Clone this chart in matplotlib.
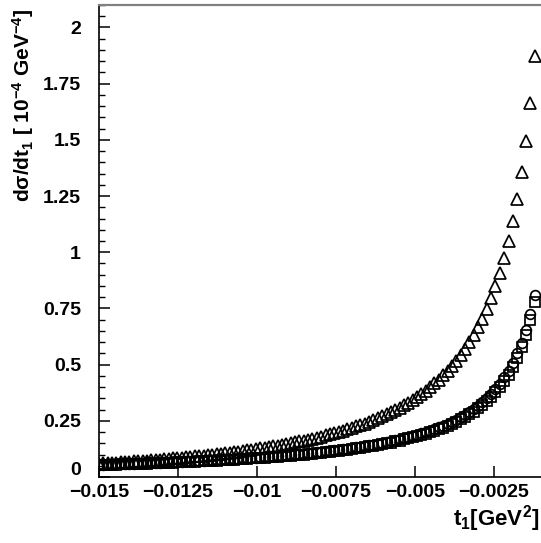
import numpy as np
import matplotlib.pyplot as plt
from matplotlib.ticker import MultipleLocator
from matplotlib.transforms import ScaledTranslation

plt.rcParams['font.family'] = ['Liberation Sans', 'DejaVu Sans']
plt.rcParams['font.weight'] = 'bold'
plt.rcParams['mathtext.fontset'] = 'custom'
plt.rcParams['mathtext.rm'] = 'Liberation Sans:bold'
plt.rcParams['mathtext.it'] = 'Liberation Sans:bold'
plt.rcParams['mathtext.bf'] = 'Liberation Sans:bold'

# t1 grid (GeV^2), 101 points
t1 = np.linspace(-0.015, -0.0012, 101)

# dsigma/dt1 [1e-4 GeV^-4], listed from t1 = -0.015 up to t1 = -0.0012
sig_tri = [
    0.0595, 0.0606, 0.0617, 0.0629, 0.0641, 0.0653, 0.0666, 0.0678, 0.0692, 0.0705,
    0.0719, 0.0733, 0.0747, 0.0762, 0.0778, 0.0793, 0.0809, 0.0825, 0.0842, 0.0860,
    0.0877, 0.0896, 0.0914, 0.0934, 0.0953, 0.0974, 0.0995, 0.102, 0.104, 0.106,
    0.108, 0.111, 0.113, 0.116, 0.119, 0.121, 0.124, 0.127, 0.130, 0.133,
    0.136, 0.140, 0.143, 0.147, 0.150, 0.154, 0.158, 0.162, 0.166, 0.170,
    0.175, 0.180, 0.185, 0.190, 0.195, 0.200, 0.206, 0.212, 0.218, 0.225,
    0.231, 0.238, 0.246, 0.253, 0.262, 0.270, 0.279, 0.288, 0.298, 0.308,
    0.319, 0.331, 0.343, 0.356, 0.370, 0.384, 0.399, 0.416, 0.433, 0.452,
    0.472, 0.494, 0.517, 0.542, 0.569, 0.599, 0.631, 0.666, 0.705, 0.748,
    0.795, 0.848, 0.907, 0.974, 1.050, 1.137, 1.238, 1.356, 1.497, 1.666,
    1.875,
]

sig_circ = [
    0.0546, 0.0552, 0.0558, 0.0564, 0.0570, 0.0577, 0.0583, 0.0590, 0.0597, 0.0604,
    0.0611, 0.0618, 0.0626, 0.0633, 0.0641, 0.0649, 0.0657, 0.0666, 0.0674, 0.0683,
    0.0691, 0.0701, 0.0710, 0.0719, 0.0729, 0.0739, 0.0750, 0.0760, 0.0771, 0.0782,
    0.0793, 0.0805, 0.0816, 0.0829, 0.0841, 0.0854, 0.0867, 0.0880, 0.0895, 0.0910,
    0.0924, 0.0939, 0.0955, 0.0971, 0.0987, 0.101, 0.102, 0.104, 0.106, 0.108,
    0.110, 0.112, 0.114, 0.117, 0.119, 0.121, 0.124, 0.126, 0.129, 0.132,
    0.135, 0.138, 0.141, 0.144, 0.148, 0.152, 0.155, 0.159, 0.164, 0.168,
    0.173, 0.178, 0.183, 0.188, 0.194, 0.200, 0.206, 0.213, 0.221, 0.228,
    0.237, 0.246, 0.255, 0.266, 0.277, 0.289, 0.302, 0.317, 0.333, 0.350,
    0.370, 0.391, 0.415, 0.443, 0.473, 0.509, 0.550, 0.598, 0.655, 0.724,
    0.808,
]

sig_sq = [
    0.0527, 0.0533, 0.0538, 0.0544, 0.0550, 0.0557, 0.0563, 0.0569, 0.0576, 0.0583,
    0.0590, 0.0596, 0.0604, 0.0611, 0.0619, 0.0626, 0.0634, 0.0643, 0.0650, 0.0659,
    0.0667, 0.0676, 0.0685, 0.0694, 0.0703, 0.0713, 0.0724, 0.0733, 0.0744, 0.0755,
    0.0765, 0.0777, 0.0787, 0.0800, 0.0812, 0.0824, 0.0837, 0.0849, 0.0864, 0.0878,
    0.0892, 0.0906, 0.0922, 0.0937, 0.0952, 0.0975, 0.0984, 0.100, 0.102, 0.104,
    0.106, 0.108, 0.110, 0.113, 0.115, 0.117, 0.120, 0.122, 0.124, 0.127,
    0.130, 0.133, 0.136, 0.139, 0.143, 0.147, 0.150, 0.153, 0.158, 0.162,
    0.167, 0.172, 0.177, 0.181, 0.187, 0.193, 0.199, 0.206, 0.213, 0.220,
    0.229, 0.237, 0.246, 0.257, 0.267, 0.279, 0.291, 0.306, 0.321, 0.338,
    0.357, 0.377, 0.400, 0.427, 0.456, 0.491, 0.531, 0.577, 0.632, 0.699,
    0.780,
]

xtick_vals = [-0.015, -0.0125, -0.01, -0.0075, -0.005, -0.0025]
xtick_text = ['\u22120.015', '\u22120.0125', '\u22120.01', '\u22120.0075',
              '\u22120.005', '\u22120.0025']
ytick_vals = [0, 0.25, 0.5, 0.75, 1, 1.25, 1.5, 1.75, 2]
ytick_text = ['0', '0.25', '0.5', '0.75', '1', '1.25', '1.5', '1.75', '2']

W, H = 541, 543
fig = plt.figure(figsize=(W / 100, H / 100), dpi=100)
ax = fig.add_axes([99 / W, 1 - 477 / H, 442 / W, 472 / H])

mk = dict(ls='none', mfc='none', mec='black', mew=1.25)
ax.plot(t1, sig_sq, marker='s', ms=6.8, **mk)
ax.plot(t1, sig_circ, marker='o', ms=7.0, **mk)
ax.plot(t1, sig_tri, marker='^', ms=9.0, **mk)

ax.set_xlim(-0.015, -0.001)
ax.set_ylim(0, 2.1)

ax.set_xticks(xtick_vals)
ax.set_xticklabels(xtick_text)
ax.set_yticks(ytick_vals)
ax.set_yticklabels(ytick_text)
ax.yaxis.set_minor_locator(MultipleLocator(0.05))

ax.tick_params(which='major', direction='in', length=8, width=1.1,
               labelsize=14, pad=13)
ax.tick_params(which='minor', direction='in', length=4, width=1.0)
ax.tick_params(axis='x', pad=5)
for lab in ax.get_xticklabels() + ax.get_yticklabels():
    lab.set_fontweight('bold')

# lift the "0" on the y axis a little, clear of the x labels
zero_lab = ax.get_yticklabels()[0]
zero_lab.set_transform(zero_lab.get_transform() +
                       ScaledTranslation(0, 6 / 72, fig.dpi_scale_trans))

for s in ['left', 'bottom']:
    ax.spines[s].set_linewidth(1.2)
ax.spines['top'].set_color('#808080')
ax.spines['top'].set_linewidth(1.6)
ax.spines['right'].set_visible(False)

fig.text(10 / W, 1 - 105 / H,
         r'd$\sigma$/dt$_1$ [ 10$^{-4}$ GeV$^{-4}$]',
         rotation=90, ha='left', va='center', fontsize=15, fontweight='bold')
fig.text(539 / W, 1 - 519 / H, r't$_1$[GeV$^2$]',
         ha='right', va='center', fontsize=16, fontweight='bold')

fig.savefig('out.png', dpi=100)
